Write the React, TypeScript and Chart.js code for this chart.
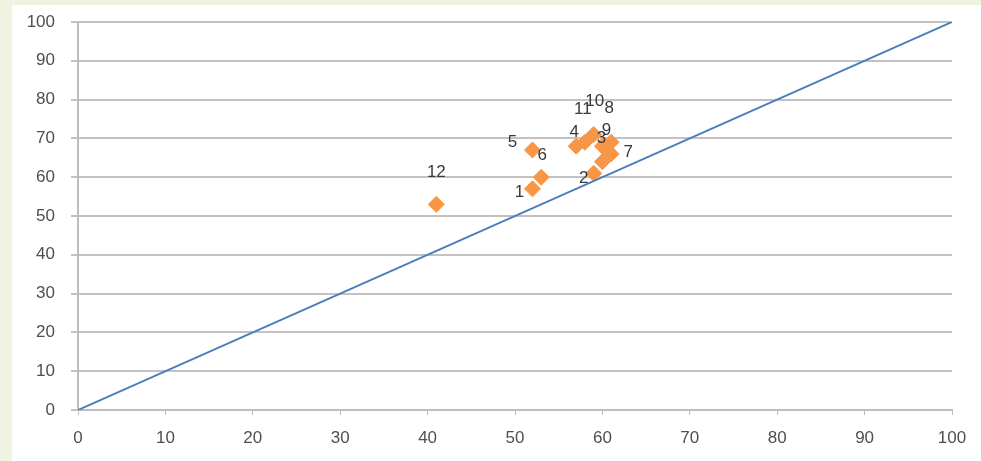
import React, { useEffect, useRef } from "react";
import { Chart, registerables } from "chart.js";

Chart.register(...registerables);

// Point labels, x and y values
const pointLabels = ["1", "2", "3", "4", "5", "6", "7", "8", "9", "10", "11", "12"];
const xValues = [52, 59, 60, 57, 52, 53, 61, 61, 60, 59, 58, 41];
const yValues = [57, 61, 64, 68, 67, 60, 66, 69, 68, 71, 69, 53];

// Reference diagonal
const diagX = [0, 100];
const diagY = [0, 100];

// Label nudges (px) relative to each marker
const labelOffsets: [number, number][] = [
  [-13, 3], [-10, 5], [-1, -23], [-2, -14], [-20, -8], [1, -22],
  [17, -2], [-2, -34], [4, -16], [1, -33], [-2, -33], [0, -32],
];

const FONT = "'Liberation Sans', 'DejaVu Sans', sans-serif";

const labelPlugin = {
  id: "pointTextLabels",
  afterDatasetsDraw(chart: any) {
    const meta = chart.getDatasetMeta(1);
    const ctx = chart.ctx;
    ctx.save();
    ctx.font = `17px ${FONT}`;
    ctx.fillStyle = "#3a3a3a";
    ctx.textAlign = "center";
    ctx.textBaseline = "middle";
    meta.data.forEach((el: any, i: number) => {
      const [dx, dy] = labelOffsets[i];
      ctx.fillText(pointLabels[i], el.x + dx, el.y + dy);
    });
    ctx.restore();
  },
};

export default function App() {
  const ref = useRef<HTMLCanvasElement | null>(null);

  useEffect(() => {
    if (!ref.current) return;
    const chart = new Chart(ref.current, {
      type: "scatter",
      data: {
        datasets: [
          {
            label: "diagonal",
            data: diagX.map((x, i) => ({ x, y: diagY[i] })),
            showLine: true,
            borderColor: "#4a7ebb",
            borderWidth: 2,
            pointRadius: 0,
          },
          {
            label: "points",
            data: xValues.map((x, i) => ({ x, y: yValues[i] })),
            pointStyle: "rectRot",
            pointRadius: 8,
            backgroundColor: "#f79646",
            borderColor: "#f79646",
            borderWidth: 1,
          },
        ],
      },
      options: {
        responsive: false,
        animation: false,
        layout: { padding: { top: 22, right: 29, left: 0, bottom: 0 } },
        plugins: { legend: { display: false }, tooltip: { enabled: false } },
        scales: {
          x: {
            type: "linear",
            min: 0,
            max: 100,
            afterFit: (s: any) => { s.height = 51; s.paddingLeft = 0; s.paddingRight = 0; },
            ticks: { stepSize: 10, color: "#4f4f4f", font: { size: 17, family: FONT }, padding: 13 },
            grid: { drawOnChartArea: false, drawTicks: true, tickLength: 5, color: "#bdbdbd" },
            border: { color: "#bdbdbd", width: 2 },
          },
          y: {
            type: "linear",
            min: 0,
            max: 100,
            afterFit: (s: any) => { s.width = 78; s.paddingTop = 0; s.paddingBottom = 0; },
            ticks: { stepSize: 10, color: "#4f4f4f", font: { size: 17, family: FONT }, padding: 16 },
            grid: { color: "#c2c2c2", lineWidth: 2, tickLength: 7 },
            border: { color: "#bdbdbd", width: 2 },
          },
        },
      },
      plugins: [labelPlugin],
    });
    return () => chart.destroy();
  }, []);

  return (
    <div style={{ position: "fixed", left: 0, top: 0, width: 981, height: 461, background: "#eef3e2" }}>
      <div style={{ position: "absolute", left: 12, top: 5, right: 0, bottom: 0, background: "#ffffff" }} />
      <canvas ref={ref} width={981} height={461} style={{ position: "absolute", left: 0, top: 0 }} />
    </div>
  );
}
